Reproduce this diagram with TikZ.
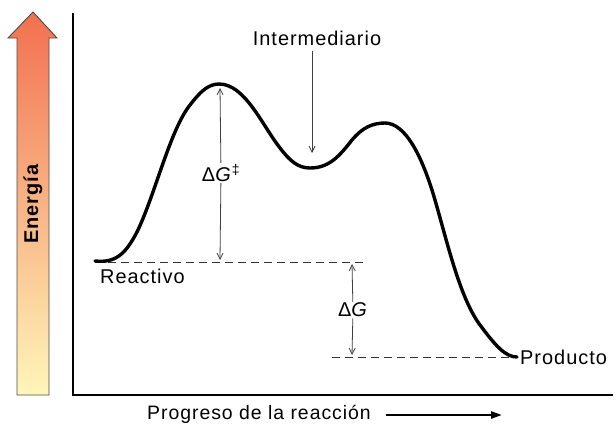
\documentclass[tikz,border=0pt]{standalone}
\usepackage{fontspec}
\setmainfont{Liberation Sans}[LetterSpace=5]
\usetikzlibrary{arrows.meta,positioning}

\definecolor{hotred}{RGB}{242,112,80}
\definecolor{midorange}{RGB}{250,182,132}
\definecolor{paleyellow}{RGB}{255,246,185}

\tikzset{
  lbl/.style={inner sep=1bp,font=\fontsize{20}{23}\selectfont},
  curve/.style={line width=3.4bp,line cap=round,line join=round},
  level/.style={line width=1bp,black!80,dash pattern=on 8bp off 5bp},
  thinarrow/.style={line width=0.8bp,black!75,-{Straight Barb[length=6bp,width=6bp]}},
}

\begin{document}
\begin{tikzpicture}[x=1bp,y=-1bp]

   \useasboundingbox (0,0) rectangle (616,426);

   % energy arrow
   \shade[draw=black!70,line width=0.9bp,top color=hotred,middle color=midorange,bottom color=paleyellow]
     (17,395) -- (17,38) -- (8,38) -- (33,12) -- (57,38) -- (49,38) -- (49,395) -- cycle;
   \node[lbl,rotate=90,font=\fontsize{20}{23}\selectfont\bfseries] (energia) at (33,204) {Energía};

   % axes
   \draw[line width=1.8bp] (73,13) -- (73,395) -- (613,395);
   \node[lbl,anchor=east,font=\fontsize{19.5}{23}\selectfont] (progreso) at (372,414) {Progreso de la reacción};
   \coordinate (xend) at (502,415);
   \draw[line width=2.4bp,-{Triangle[length=11bp,width=7bp]}] ([xshift=14bp]progreso.east|-xend) -- (xend);

   % levels
   \coordinate (react) at (95,262);
   \coordinate (prod) at (517,357);
   \draw[level] (react) -- (368,262);
   \draw[level] (332,357) -- (prod);

   % reaction curve
   \draw[curve] (95,261) .. controls (115,263) and (125,255) .. (137,232)
     .. controls (155,195) and (170,130) .. (190,105)
     .. controls (200,92) and (208,84) .. (219,84)
     .. controls (245,84) and (262,125) .. (280,148)
     .. controls (290,161) and (298,168) .. (310,168)
     .. controls (330,168) and (340,155) .. (352,140)
     .. controls (362,128) and (372,123) .. (385,123)
     .. controls (405,123) and (422,155) .. (435,200)
     .. controls (448,245) and (460,298) .. (480,325)
     .. controls (495,345) and (505,357) .. (prod);

   \node[lbl,anchor=north west] (reactivo) at (99,268) {Reactivo};
   \node[lbl,anchor=west] (producto) at (519,357) {Producto};

   % activation energy
   \coordinate (ts) at (220,88);
   \coordinate (tsbase) at (220,260);
   \node[lbl] (dGts) at (221,173) {Δ\textit{G}\textsuperscript{‡}};
   \draw[thinarrow] (dGts) -- (ts);
   \draw[thinarrow] (dGts) -- (tsbase);

   % free energy change
   \coordinate (gtop) at (352,264);
   \coordinate (gbot) at (352,355);
   \node[lbl] (dG) at (353,310) {Δ\textit{G}};
   \draw[thinarrow] (dG) -- (gtop);
   \draw[thinarrow] (dG) -- (gbot);

   % intermediate
   \node[lbl] (inter) at (317,38) {Intermediario};
   \coordinate (valley) at (312,153);
   \draw[thinarrow] ([yshift=-4bp]inter.south-|valley) -- (valley);

\end{tikzpicture}
\end{document}
